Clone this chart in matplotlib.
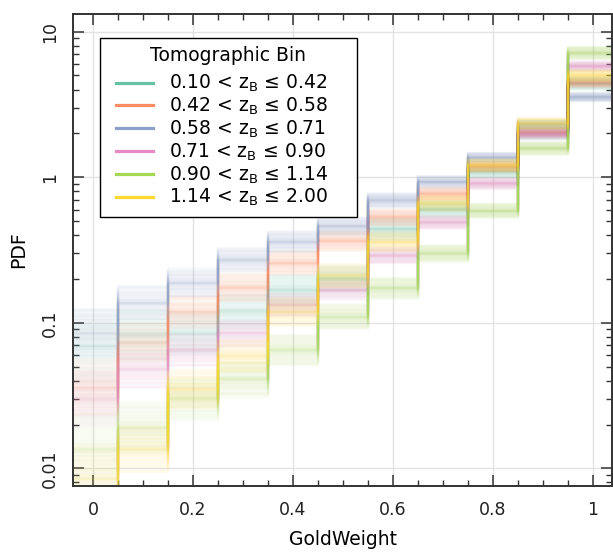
import numpy as np
import matplotlib
matplotlib.use("Agg")
import matplotlib.pyplot as plt
from matplotlib.ticker import MultipleLocator, FuncFormatter, LogLocator, NullFormatter

# GoldWeight bins (centres 0, 0.1, ..., 1.0)
edges = np.linspace(-0.05, 1.05, 12)

labels = [r"0.10 < z$_{\rm B}$ ≤ 0.42",
          r"0.42 < z$_{\rm B}$ ≤ 0.58",
          r"0.58 < z$_{\rm B}$ ≤ 0.71",
          r"0.71 < z$_{\rm B}$ ≤ 0.90",
          r"0.90 < z$_{\rm B}$ ≤ 1.14",
          r"1.14 < z$_{\rm B}$ ≤ 2.00"]
colors = ["#66c2a5", "#fc8d62", "#8da0cb", "#e78ac3", "#a6d854", "#ffd92f"]

# central PDF value per GoldWeight bin
pdf_bin1 = [0.069, 0.083, 0.085, 0.12, 0.168, 0.20, 0.44, 0.60, 1.10, 2.0, 4.4]
pdf_bin2 = [0.036, 0.073, 0.119, 0.174, 0.257, 0.365, 0.53, 0.77, 1.18, 2.05, 4.46]
pdf_bin3 = [0.085, 0.137, 0.188, 0.27, 0.36, 0.46, 0.695, 0.93, 1.365, 2.3, 3.55]
pdf_bin4 = [0.030, 0.048, 0.065, 0.085, 0.133, 0.168, 0.29, 0.49, 0.905, 1.98, 5.78]
pdf_bin5 = [0.0135, 0.019, 0.030, 0.041, 0.065, 0.11, 0.173, 0.30, 0.587, 1.58, 7.15]
pdf_bin6 = [0.0085, 0.0135, 0.035, 0.059, 0.119, 0.21, 0.36, 0.66, 1.21, 2.34, 5.0]
pdfs = [pdf_bin1, pdf_bin2, pdf_bin3, pdf_bin4, pdf_bin5, pdf_bin6]

# scatter of the bootstrap curves (dex), per GoldWeight bin and per tomo bin
spread_w = [0.085, 0.06, 0.05, 0.042, 0.036, 0.03, 0.025, 0.02, 0.017, 0.015, 0.015]
spread_t = [1.3, 1.0, 0.9, 1.0, 1.3, 1.2]

n_lines = 40
u = np.linspace(-1, 1, n_lines)
offs = 2.2 * np.sign(u) * np.abs(u) ** 1.5

fig = plt.figure(figsize=(6.13, 5.52), dpi=100)
ax = fig.add_axes([73/613, 1 - 486/552, (612 - 73)/613, (486 - 14)/552])
ax.set_yscale("log")

for i in range(6):
    c = np.array(pdfs[i])
    s = np.array(spread_w) * spread_t[i]
    for o in offs:
        ax.stairs(c * 10 ** (o * s), edges, baseline=None, color=colors[i],
                  alpha=0.06, lw=1.6)
    ax.plot([], [], color=colors[i], lw=2.3, label=labels[i])

ax.set_xlim(-0.04, 1.038)
ax.set_ylim(10 ** -2.121, 10 ** 1.121)

ax.xaxis.set_major_locator(MultipleLocator(0.2))
ax.xaxis.set_minor_locator(MultipleLocator(0.05))
ax.xaxis.set_major_formatter(FuncFormatter(lambda v, p: "%g" % round(v, 3)))
ax.yaxis.set_major_locator(LogLocator(base=10))
ax.yaxis.set_minor_locator(LogLocator(base=10, subs=np.arange(2, 10)))
ax.yaxis.set_major_formatter(FuncFormatter(lambda v, p: "%g" % v))
ax.yaxis.set_minor_formatter(NullFormatter())

ax.tick_params(which="both", direction="in", top=True, right=True,
               colors="#333333", labelcolor="#222222", labelsize=12.5)
ax.tick_params(which="major", length=8, width=1.1)
ax.tick_params(which="minor", length=4.5, width=1.0)
ax.tick_params(axis="x", pad=11)
ax.tick_params(axis="y", pad=10)
for lab in ax.get_yticklabels():
    lab.set_rotation(90)
    lab.set_va("center")

for sp in ax.spines.values():
    sp.set_color("#333333")
    sp.set_linewidth(1.4)

ax.grid(True, which="major", color="#e3e3e3", lw=1)
ax.set_axisbelow(True)

ax.set_xlabel("GoldWeight", fontsize=13.5, labelpad=8)
ax.set_ylabel("PDF", fontsize=13.5, labelpad=9)

fs = 13.5
leg = ax.legend(title="Tomographic Bin", loc="upper left",
                bbox_to_anchor=(27/539, 0.0, 257/539, 448/472), mode="expand",
                borderaxespad=0, fontsize=fs, title_fontsize=fs, fancybox=False,
                edgecolor="black", framealpha=1, handlelength=2.4,
                handletextpad=0.85, labelspacing=0.08, borderpad=0.45)
leg.get_frame().set_linewidth(1.0)
leg._legend_box.sep = 5.5  # a bit more room under the title
# indent the legend handles a little, as in the original
for ln in leg.get_lines():
    x = np.asarray(ln.get_xdata(), dtype=float)
    ln.set_xdata([x[0] + 5.8, x[-1]])
    ln.set_ydata([ln.get_ydata()[0]] * 2)

fig.savefig("out.png", dpi=100)
